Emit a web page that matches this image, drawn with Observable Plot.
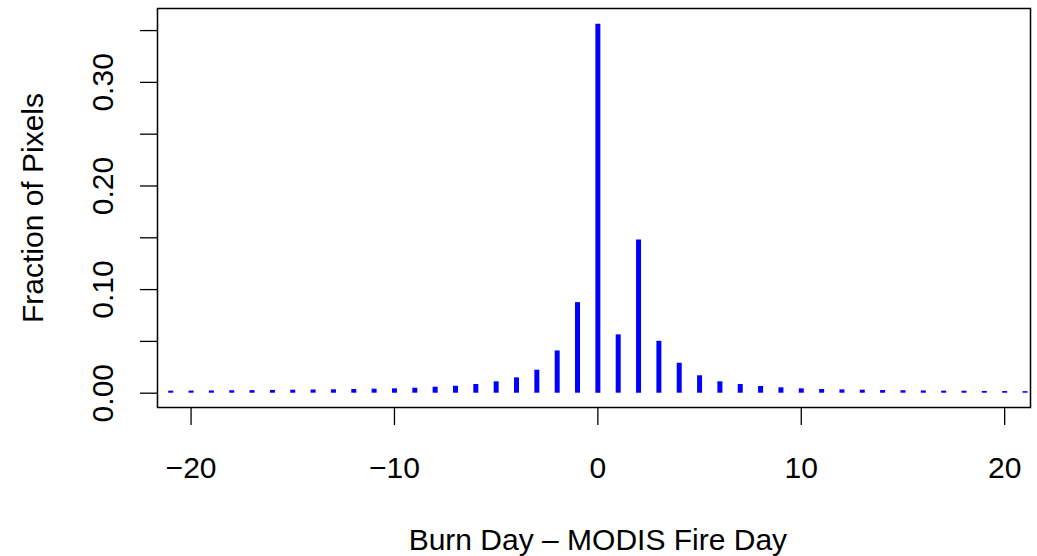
<!DOCTYPE html>
<html>
<head>
<meta charset="utf-8">
<script src="https://cdn.jsdelivr.net/npm/d3@7"></script>
<script src="https://cdn.jsdelivr.net/npm/@observablehq/plot@0.6"></script>
<style>
  html, body { margin: 0; padding: 0; background: #fff; }
  #chart { width: 1037px; height: 556px; }
</style>
</head>
<body>
<div id="chart"></div>
<script>
// Day offsets (Burn Day − MODIS Fire Day)
const days = [-21,-20,-19,-18,-17,-16,-15,-14,-13,-12,-11,-10,-9,-8,-7,-6,-5,-4,-3,-2,-1,
              0,1,2,3,4,5,6,7,8,9,10,11,12,13,14,15,16,17,18,19,20,21];
// Fraction of pixels for each day offset
const fractions = [0.0020,0.0021,0.0022,0.0024,0.0025,0.0027,0.0029,0.0031,0.0033,0.0036,0.0039,0.0042,0.0048,0.0058,0.0067,0.0084,0.0110,0.0148,0.0222,0.0408,0.0874,
                   0.3560,0.0563,0.1478,0.0501,0.0289,0.0168,0.0110,0.0084,0.0065,0.0052,0.0042,0.0036,0.0032,0.0029,0.0026,0.0024,0.0022,0.0020,0.0019,0.0017,0.0016,0.0015];
const xTicks = [-20, -10, 0, 10, 20];
const yTicks = [0, 0.05, 0.10, 0.15, 0.20, 0.25, 0.30, 0.35];
const yLabels = [0, 0.10, 0.20, 0.30];
const xTitle = "Burn Day \u2013 MODIS Fire Day";
const yTitle = "Fraction of Pixels";

const data = days.map((d, i) => ({day: d, frac: fractions[i]}));
const font = "Liberation Sans, Arial, Helvetica, sans-serif";

const chart = Plot.plot({
  width: 1037,
  height: 556,
  marginLeft: 157,
  marginRight: 7,
  marginTop: 8,
  marginBottom: 149,
  style: {fontFamily: font, background: "#fff", color: "#000"},
  x: {domain: [-21.65, 21.27]},
  y: {domain: [-0.0138, 0.3713]},
  marks: [
    Plot.ruleX(data, {x: "day", y1: 0, y2: "frac", stroke: "#0000ff", strokeWidth: 5}),
    Plot.frame({stroke: "#000", strokeWidth: 1.5}),
    Plot.axisX({ticks: xTicks, tickSize: 18, tickPadding: 31, fontSize: 30, label: null,
                tickFormat: d => d < 0 ? "\u2212" + Math.abs(d) : String(d), stroke: "#000", strokeWidth: 1.3}),
    Plot.axisY({ticks: yTicks, tickSize: 17, tickFormat: () => "", label: null, stroke: "#000", strokeWidth: 1.3}),
    Plot.text(yLabels, {y: d => d, frameAnchor: "left", dx: -45, rotate: -90, text: d => d.toFixed(2),
                        fontSize: 30, textAnchor: "middle", lineAnchor: "bottom", fill: "#000"}),
    Plot.text([0], {x: d => d, frameAnchor: "bottom", dy: 142, text: () => xTitle,
                    fontSize: 30, textAnchor: "middle", lineAnchor: "bottom", fill: "#000"}),
    Plot.text([yTitle], {frameAnchor: "left", dx: -115, rotate: -90, text: d => d,
                    fontSize: 30, textAnchor: "middle", lineAnchor: "bottom", fill: "#000"})
  ]
});
document.getElementById("chart").appendChild(chart);
</script>
</body>
</html>
